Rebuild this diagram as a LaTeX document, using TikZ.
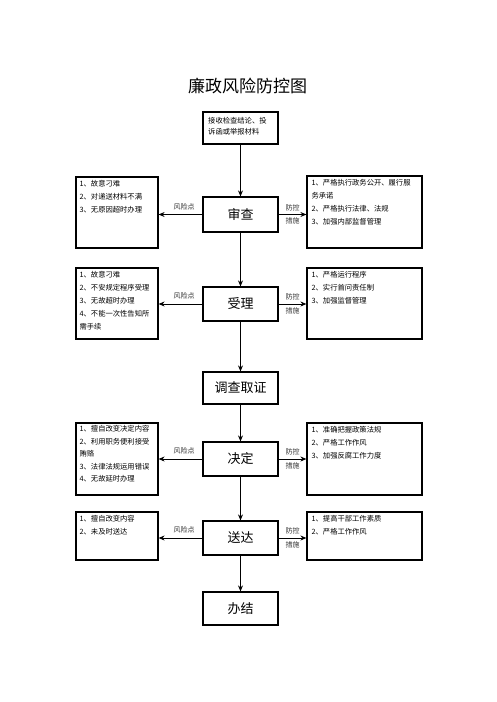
\documentclass[tikz,border=0pt]{standalone}
\usepackage{fontspec}
\setmainfont{Noto Sans CJK SC}
\usetikzlibrary{arrows.meta}
\tikzset{
  mainbox/.style={draw, line width=1.2pt, minimum width=75pt, inner sep=0pt, font=\fontsize{13}{15}\selectfont},
  sidebox/.style={draw, line width=1.2pt, inner sep=0pt},
  sidetext/.style={anchor=north west, inner sep=0pt, align=left, font=\fontsize{7.3}{13}\selectfont},
  flow/.style={line width=0.9pt, -{Stealth[length=6pt,width=5pt]}},
  lab/.style={inner sep=0pt, font=\fontsize{7}{8}\selectfont, text=black!80}
}
\begin{document}
\begin{tikzpicture}[x=1pt,y=-1pt]
\useasboundingbox (0,0) rectangle (496,702);
\node[inner sep=0pt, font=\fontsize{17}{19}\selectfont] (title) at (247.5,86) {廉政风险防控图};

\node[mainbox, minimum height=32pt] (start) at (240.5,128) {};
\node[inner sep=0pt, anchor=north west, align=left, font=\fontsize{7.3}{11.5}\selectfont] (starttext) at (208,117) {接收检查结论、投\\诉函或举报材料};

\node[mainbox, minimum height=35pt] (shencha) at (240.5,214.5) {审查};
\node[mainbox, minimum height=34pt] (shouli) at (240.5,304) {受理};
\node[mainbox, minimum height=32pt] (diaocha) at (240.5,388) {调查取证};
\node[mainbox, minimum height=34pt] (jueding) at (240.5,459) {决定};
\node[mainbox, minimum height=34pt] (songda) at (240.5,538) {送达};
\node[mainbox, minimum height=33pt] (banjie) at (240.5,608.5) {办结};

% side boxes
\node[sidebox, minimum width=82pt, minimum height=71pt] (l1) at (117,212.5) {};
\node[sidebox, minimum width=115pt, minimum height=72pt] (r1) at (364.5,212) {};
\node[sidebox, minimum width=82pt, minimum height=71pt] (l2) at (117,303.5) {};
\node[sidebox, minimum width=115pt, minimum height=71pt] (r2) at (364.5,303.5) {};
\node[sidebox, minimum width=82pt, minimum height=72pt] (l3) at (117,459) {};
\node[sidebox, minimum width=115pt, minimum height=72pt] (r3) at (364.5,459) {};
\node[sidebox, minimum width=82pt, minimum height=48pt] (l4) at (117,536) {};
\node[sidebox, minimum width=115pt, minimum height=48pt] (r4) at (364.5,536) {};

\node[sidetext] (l1t) at ([xshift=4pt,yshift=-4pt]l1.north west) {1、故意刁难\\2、对递送材料不满\\3、无原因超时办理};
\node[sidetext] (r1t) at ([xshift=5pt,yshift=-4pt]r1.north west) {1、严格执行政务公开、履行服\\务承诺\\2、严格执行法律、法规\\3、加强内部监督管理};
\node[sidetext] (l2t) at ([xshift=4pt,yshift=-4pt]l2.north west) {1、故意刁难\\2、不安规定程序受理\\3、无故超时办理\\4、不能一次性告知所\\需手续};
\node[sidetext] (r2t) at ([xshift=5pt,yshift=-4pt]r2.north west) {1、严格运行程序\\2、实行首问责任制\\3、加强监督管理};
\node[sidetext, font=\fontsize{7.3}{12.5}\selectfont] (l3t) at ([xshift=4pt,yshift=-3pt]l3.north west) {1、擅自改变决定内容\\2、利用职务便利接受\\贿赂\\3、法律法规运用错误\\4、无故延时办理};
\node[sidetext] (r3t) at ([xshift=5pt,yshift=-4pt]r3.north west) {1、准确把握政策法规\\2、严格工作作风\\3、加强反腐工作力度};
\node[sidetext] (l4t) at ([xshift=4pt,yshift=-4pt]l4.north west) {1、擅自改变内容\\2、未及时送达};
\node[sidetext] (r4t) at ([xshift=5pt,yshift=-4pt]r4.north west) {1、提高干部工作素质\\2、严格工作作风};

% vertical flow
\draw[flow] (start) -- (shencha);
\draw[flow] (shencha) -- (shouli);
\draw[flow] (shouli) -- (diaocha);
\draw[flow] (diaocha) -- (jueding);
\draw[flow] (jueding) -- (songda);
\draw[flow] (songda) -- (banjie);

% side arrows with labels
\foreach \m/\l/\r/\n in {shencha/l1/r1/a, shouli/l2/r2/b, jueding/l3/r3/c, songda/l4/r4/d}{
  \draw[flow] (\m.west) -- (\l.east |- \m.west)
    node[lab, pos=0.42, above=4pt] (risk\n) {风险点};
  \draw[flow] (\m.east) -- (\r.west |- \m.east)
    node[lab, midway, above=3pt] (ctrl\n) {防控}
    node[lab, midway, below=3pt] (meas\n) {措施};
}
\end{tikzpicture}
\end{document}
